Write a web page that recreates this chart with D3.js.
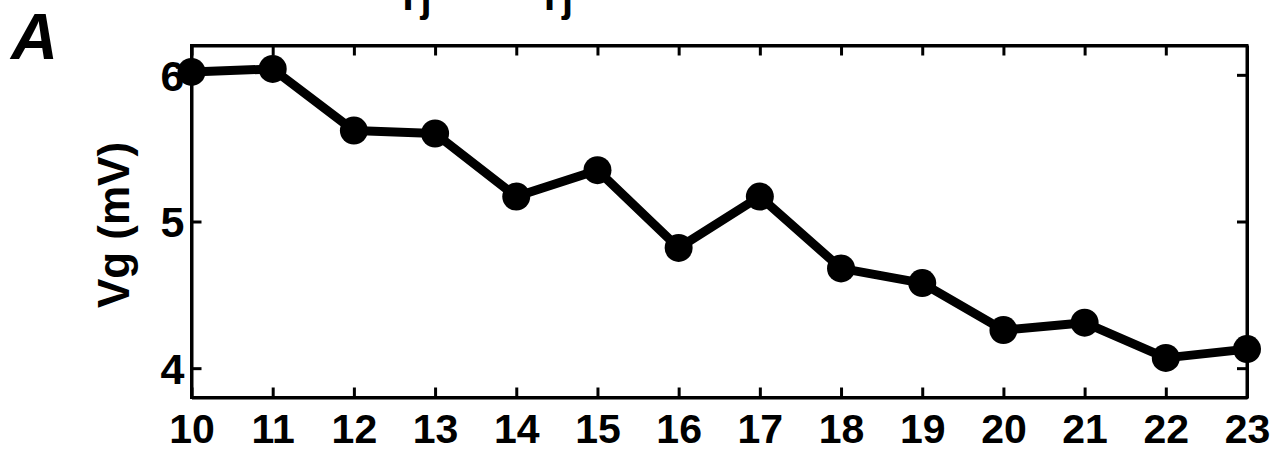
<!DOCTYPE html>
<html>
<head>
<meta charset="utf-8">
<script src="https://cdn.jsdelivr.net/npm/d3@7"></script>
<style>
  html, body { margin: 0; padding: 0; background: #fff; }
  svg { display: block; font-family: "Liberation Sans", Arial, sans-serif; }
</style>
</head>
<body>
<svg id="chart" width="1276" height="452"></svg>
<script>
// ---- data ----
const days = [10, 11, 12, 13, 14, 15, 16, 17, 18, 19, 20, 21, 22, 23];
const vg = [6.02, 6.04, 5.62, 5.60, 5.17, 5.35, 4.82, 5.17, 4.68, 4.58, 4.26, 4.31, 4.07, 4.13];
const xTicks = [10, 11, 12, 13, 14, 15, 16, 17, 18, 19, 20, 21, 22, 23];
const yTicks = [4, 5, 6];
const yLabel = "Vg (mV)";
const panelLabel = "A";

(function () {
  // ---- layout ----
  const svg = d3.select("#chart");
  const mL = 191.5, mR = 1247, mT = 45.5, mB = 397.5;

  const x = d3.scaleLinear().domain([10, 23]).range([mL, mR]);
  const y = d3.scaleLinear().domain([3.8, 6.2]).range([mB, mT]);

  const tickLen = 10;

  // bottom axis
  const gB = svg.append("g").attr("transform", `translate(0,${mB})`)
    .call(d3.axisBottom(x).tickValues(xTicks).tickFormat(d3.format("d"))
      .tickSizeInner(-tickLen).tickSizeOuter(0));

  // left axis
  const gL = svg.append("g").attr("transform", `translate(${mL},0)`)
    .call(d3.axisLeft(y).tickValues(yTicks).tickFormat(d3.format("d"))
      .tickSizeInner(-tickLen).tickSizeOuter(0));

  // top axis
  svg.append("g").attr("transform", `translate(0,${mT})`)
    .call(d3.axisTop(x).tickValues(xTicks).tickFormat("")
      .tickSizeInner(-tickLen).tickSizeOuter(0));

  // right axis
  svg.append("g").attr("transform", `translate(${mR},0)`)
    .call(d3.axisRight(y).tickValues(yTicks).tickFormat("")
      .tickSizeInner(-tickLen).tickSizeOuter(0));

  svg.selectAll(".domain").attr("stroke", "#000").attr("stroke-width", 3);
  svg.selectAll(".tick line").attr("stroke", "#000").attr("stroke-width", 3);
  svg.selectAll(".tick text")
    .attr("fill", "#000")
    .style("font-family", "'Liberation Sans', Arial, sans-serif")
    .style("font-weight", "bold");

  gB.selectAll("text").attr("y", 45.5).attr("dy", 0).style("font-size", "41px");
  gL.selectAll("text").attr("x", -7).attr("dy", "0.36em").style("font-size", "43px");

  // frame
  svg.append("rect")
    .attr("x", mL).attr("y", mT)
    .attr("width", mR - mL).attr("height", mB - mT)
    .attr("fill", "none").attr("stroke", "#000").attr("stroke-width", 3);

  // y axis title
  svg.append("text")
    .attr("transform", `translate(129,225) rotate(-90)`)
    .attr("text-anchor", "middle")
    .style("font-weight", "bold").style("font-size", "44px")
    .text(yLabel);

  // panel label
  svg.append("text")
    .attr("x", 11).attr("y", 59)
    .style("font-weight", "bold").style("font-style", "italic").style("font-size", "65px")
    .text(panelLabel);

  // cut-off title fragments at top edge
  const frag = svg.append("g").style("font-weight", "bold").style("font-size", "40px");
  [402.5, 544].forEach(px => {
    frag.append("text").attr("x", px).attr("y", 10).text("I");
    frag.append("text").attr("x", px + 18).attr("y", 12).text("j");
  });

  // line + markers
  const pts = days.map((d, i) => [d, vg[i]]);
  svg.append("path")
    .datum(pts)
    .attr("fill", "none").attr("stroke", "#000").attr("stroke-width", 9)
    .attr("stroke-linejoin", "round")
    .attr("d", d3.line().x(d => x(d[0])).y(d => y(d[1])));

  svg.append("g").selectAll("circle").data(pts).join("circle")
    .attr("cx", d => x(d[0])).attr("cy", d => y(d[1]))
    .attr("r", 14).attr("fill", "#000");
})();
</script>
</body>
</html>
